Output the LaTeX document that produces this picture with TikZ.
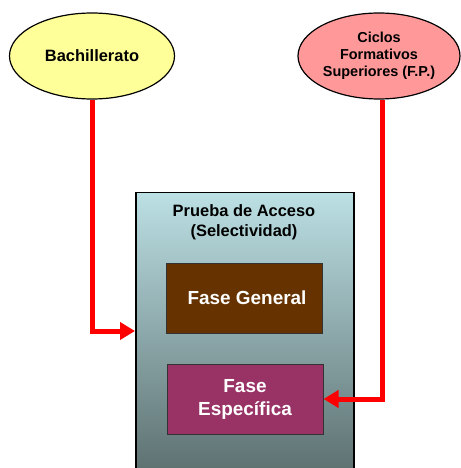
\documentclass[tikz,border=0pt]{standalone}
\usepackage{fontspec}
\setmainfont{Liberation Sans}
\usetikzlibrary{shapes.geometric,arrows.meta,calc}
\definecolor{bachfill}{RGB}{255,255,153}
\definecolor{ciclfill}{RGB}{255,153,153}
\definecolor{boxtop}{RGB}{188,224,228}
\definecolor{boxbot}{RGB}{86,104,104}
\definecolor{genfill}{RGB}{102,51,0}
\definecolor{espfill}{RGB}{153,51,102}
\definecolor{linered}{RGB}{255,0,0}
\tikzset{
  oval/.style={ellipse, draw=black, line width=1.2bp, inner sep=0pt, minimum width=165bp, minimum height=86bp, align=center, font=\bfseries},
  phasebox/.style={rectangle, draw=black!80, line width=1bp, minimum width=156bp, minimum height=70bp, inner sep=0pt, align=center, text=white, font=\fontsize{19}{23}\selectfont\bfseries},
  redarrow/.style={draw=linered, line width=5bp, line join=miter, -{Triangle[length=15bp,width=17bp]}}
}
\begin{document}
\begin{tikzpicture}[x=1bp,y=-1bp]
\useasboundingbox (0,0) rectangle (461,468);
\clip (0,0) rectangle (461,468);
% big box
\node[rectangle, draw=black, line width=1.5bp, top color=boxtop, bottom color=boxbot, minimum width=218bp, minimum height=300bp, inner sep=0pt, anchor=north west] (acceso) at (135,192) {};
\node[align=center, font=\fontsize{16.5}{20}\selectfont\bfseries] (titulo) at (244,222.5) {Prueba de Acceso\\(Selectividad)};
\node[phasebox, fill=genfill] (gen) at (244.5,298) {\hspace*{5bp}Fase General};
\node[phasebox, fill=espfill] (esp) at (245,399) {Fase\\Específica};
% ellipses
\node[oval, fill=bachfill, font=\fontsize{16.5}{19}\selectfont\bfseries] (bach) at (92,56) {Bachillerato};
\node[oval, fill=ciclfill, minimum width=162bp, font=\fontsize{14.5}{17}\selectfont\bfseries] (cicl) at (379,56) {\raisebox{4bp}{\begin{tabular}{@{}c@{}}Ciclos\\Formativos\\Superiores (F.P.)\end{tabular}}};
% connectors
\coordinate (lt) at (acceso.west |- 0,331);
\draw[redarrow] (bach.south) |- (lt);
\draw[redarrow] ([xshift=3bp]cicl.south) |- (esp.east);
\end{tikzpicture}
\end{document}
